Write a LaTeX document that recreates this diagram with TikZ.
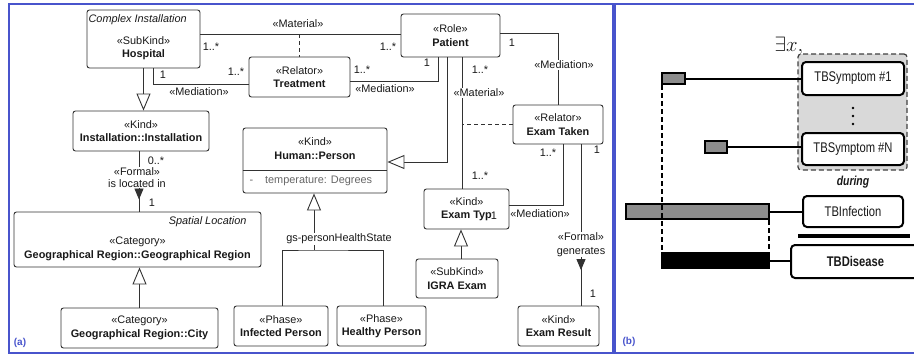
\documentclass[tikz,border=0pt]{standalone}
\usepackage{fontspec}
\setmainfont{Liberation Sans}
\newfontfamily\narrowfont[FakeStretch=0.8]{Liberation Sans}
\usepackage{tikz}
\usetikzlibrary{positioning,arrows.meta,decorations.markings}
\definecolor{frameblue}{RGB}{72,84,204}
\definecolor{umlline}{RGB}{50,50,50}
\tikzset{
  cls/.style={draw=umlline,line width=0.9pt,rounded corners=2.5pt,fill=white,align=center,inner sep=0pt},
  mult/.style={inner sep=1pt},
  rel/.style={draw=umlline,line width=0.9pt},
  gen/.style={rel,-{Triangle[open,length=17pt,width=14pt,fill=white]}},
  formal/.style={rel,postaction={decorate},decoration={markings,mark=at position #1 with {\arrow{Triangle[length=11pt,width=9pt]}}}},
  tlbox/.style={draw=black,line width=2pt,rounded corners=4pt,fill=white,inner sep=0pt,font=\narrowfont\fontsize{14}{16}\selectfont},
  bar/.style={draw=black,line width=2pt,inner sep=0pt},
  tldash/.style={line width=1.2pt,dash pattern=on 5pt off 3pt},
}

\begin{document}
\begin{tikzpicture}[x=1pt,y=-1pt,font=\fontsize{10.9}{13.5}\selectfont,text=black!90]
    \useasboundingbox (0,0) rectangle (914,356);
    \draw[frameblue,line width=2pt] (9,4) rectangle (613,353);
    \draw[frameblue,line width=2pt] (914,4) -- (615,4) -- (615,353) -- (914,353);

    \node[cls,minimum width=113pt,minimum height=58pt] (hospital) at (143.5,39) {};
    \node[anchor=north west,font=\itshape\fontsize{10.9}{13}\selectfont] (hospitaltitle) at ([xshift=-1.5pt,yshift=-1.5pt]hospital.north west) {Complex Installation};
    \node[align=center] (hospitalname) at ([yshift=-9pt]hospital.center) {«SubKind»\\\textbf{Hospital}};
    \node[cls,minimum width=101pt,minimum height=40pt] (treatment) at (299.5,77) {«Relator»\\\textbf{Treatment}};
    \node[cls,minimum width=99pt,minimum height=43pt] (patient) at (450.5,35.5) {«Role»\\\textbf{Patient}};
    \node[cls,minimum width=136pt,minimum height=40pt] (install) at (141,131) {«Kind»\\\textbf{Installation::Installation}};
    \node[cls,minimum width=144pt,minimum height=65pt] (person) at (315,160.5) {};
    \node[align=center] (personname) at (315,148.5) {«Kind»\\\textbf{Human::Person}};
    \coordinate (persondiv) at (315,170);
    \draw[rel] (person.west |- persondiv) -- (person.east |- persondiv);
    \node[anchor=west,text=black!60] (personattr) at (246,181) {-\hspace{12pt}temperature: Degrees};
    \node[cls,minimum width=90pt,minimum height=39pt] (examtaken) at (558,124.5) {«Relator»\\\textbf{Exam Taken}};
    \node[cls,minimum width=85pt,minimum height=40pt] (examtyp) at (466.5,209) {«Kind»\\\textbf{Exam Typ}\hspace{8pt}};
    \node[cls,minimum width=82pt,minimum height=39pt] (igra) at (457,278.5) {«SubKind»\\\textbf{IGRA Exam}};
    \node[cls,minimum width=81pt,minimum height=40pt] (result) at (558.5,326) {«Kind»\\\textbf{Exam Result}};
    \node[cls,minimum width=94pt,minimum height=40pt] (infected) at (281,326) {«Phase»\\\textbf{Infected Person}};
    \node[cls,minimum width=89pt,minimum height=40pt] (healthy) at (381.5,326) {«Phase»\\\textbf{Healthy Person}};
    \node[cls,minimum width=247pt,minimum height=55pt] (georegion) at (137.5,239.5) {};
    \node[anchor=north east,font=\itshape\fontsize{10.9}{13}\selectfont] (geotitle) at ([xshift=-11.5pt,yshift=-1.5pt]georegion.north east) {Spatial Location};
    \node[align=center] (geoname) at ([yshift=-9.5pt]georegion.center) {«Category»\\\textbf{Geographical Region::Geographical Region}};
    \node[cls,minimum width=157pt,minimum height=40pt] (city) at (139.5,328) {«Category»\\\textbf{Geographical Region::City}};

    \coordinate (matpat) at ([yshift=1.5pt]patient.west);
    \draw[rel] (hospital.east |- matpat) -- (matpat);
    \draw[rel,dash pattern=on 4pt off 3pt] (treatment.north |- matpat) -- (treatment.north);
    \draw[rel] ([xshift=9.5pt]hospital.south) |- ([yshift=-7pt]treatment.west);
    \draw[rel] ([yshift=-4pt]treatment.east) -| ([xshift=-12.5pt]patient.south);
    \draw[gen] ([xshift=-3.5pt]patient.south) |- ([yshift=-1.5pt]person.east);
    \coordinate (matpe) at ([xshift=11.5pt]patient.south);
    \draw[rel] (matpe) -- (matpe |- examtyp.north);
    \draw[rel,dash pattern=on 4pt off 3pt] (examtaken.west) -- (examtaken.west -| matpe);
    \draw[rel] ([yshift=2.5pt]patient.east) -| (examtaken.north);
    \draw[rel] ([xshift=5pt]examtaken.south) |- ([yshift=4pt]examtyp.east);
    \draw[formal=0.78] ([xshift=23pt]examtaken.south) -- ([xshift=22.5pt]result.north);
    \draw[formal=0.80] ([xshift=-2pt]install.south) -- ([xshift=1.5pt]georegion.north);
    \draw[gen] (hospital.south) -- (hospital.south |- install.north);
    \draw[gen] (city.north) -- (city.north |- georegion.south);
    \draw[gen] ([xshift=4pt]igra.north) -- ([xshift=4pt]igra.north |- examtyp.south);
    \coordinate (gsjoin) at (314,250);
    \draw[rel] ([xshift=1pt]infected.north) |- (gsjoin) -| ([xshift=1.5pt]healthy.north);
    \draw[gen] (gsjoin) -- (gsjoin |- person.south);

    \node (hpmat) at (298,24) {«Material»};
    \node[mult] (hpm1) at (211,47) {1..*};
    \node[mult] (hpm2) at (388,47) {1..*};
    \node[mult] (htm1) at (163,75) {1};
    \node[mult] (htm2) at (236,72) {1..*};
    \node (htmed) at (199,92) {«Mediation»};
    \node[mult] (tpm1) at (362,70) {1..*};
    \node[mult] (tpm2) at (427,63) {1};
    \node (tpmed) at (385,89) {«Mediation»};
    \node[mult] (pem1) at (480,70) {1..*};
    \node[fill=white,inner sep=1pt] (pemat) at (479,93) {«Material»};
    \node[mult] (pem2) at (480,176) {1..*};
    \node[mult] (ptm1) at (512,43) {1};
    \node[fill=white,inner sep=1pt] (ptmed) at (564,65) {«Mediation»};
    \node[mult] (etm1) at (548,153) {1..*};
    \node[mult] (etm2) at (494,216) {1};
    \node (etmed) at (540,214) {«Mediation»};
    \node[mult] (erm1) at (597,150) {1};
    \node[fill=white,inner sep=1pt,align=center] (ergen) at (581,244.5) {«Formal»\\generates};
    \node[mult] (erm2) at (593,294) {1};
    \node[mult] (igm1) at (156,161) {0..*};
    \node[fill=white,inner sep=1pt,align=center,font=\fontsize{10.9}{11.5}\selectfont] (igloc) at (137,177.5) {«Formal»\\is located in};
    \node[mult] (igm2) at (152,203) {1};
    \node[fill=white,inner sep=1pt] (gslabel) at (339,239) {gs-personHealthState};
    \node[text=frameblue,font=\bfseries\fontsize{10}{12}\selectfont] (taga) at (20,343) {(a)};

    \node[draw=black!75,tldash,fill=black!15,rounded corners=3pt,minimum width=109pt,minimum height=116pt] (symgroup) at (852.5,112) {};
    \node (exists) at (789,46) {\fontsize{20}{20}\selectfont$\exists x,$};
    \node[tlbox,minimum width=102pt,minimum height=33pt] (sym1) at (853,78.5) {TBSymptom \#1};
    \node[tlbox,minimum width=102pt,minimum height=32pt] (symN) at (853,149) {TBSymptom \#N};
    \foreach \y in {108,116,124}
        \fill (853,\y) circle (1.3pt);
    \node[font=\narrowfont\bfseries\itshape\fontsize{13}{14}\selectfont] (during) at (853,182) {during};
    \node[tlbox,minimum width=100pt,minimum height=31pt] (tbinf) at (853,211.5) {TBInfection};
    \node[tlbox,minimum width=129pt,minimum height=33pt,font=\narrowfont\bfseries\fontsize{14}{16}\selectfont] (tbdis) at (855.5,261.5) {TBDisease};
    \draw[line width=4pt] (798,236) -- (910,236);
    \node[bar,fill=black!45,minimum width=23pt,minimum height=11pt] (bar1) at (673.5,78.5) {};
    \node[bar,fill=black!45,minimum width=22pt,minimum height=12pt] (barN) at (716,147) {};
    \node[bar,fill=black!45,minimum width=143pt,minimum height=15pt] (barinf) at (697.5,211.5) {};
    \node[bar,fill=black,minimum width=107pt,minimum height=15pt] (bardis) at (715.5,260.5) {};
    \draw[line width=2pt] (bar1.east) -- (bar1.east -| sym1.west);
    \draw[line width=2pt] (barN.east) -- (barN.east -| symN.west);
    \draw[line width=2pt] (barinf.east) -- (barinf.east -| tbinf.west);
    \draw[line width=2pt] (bardis.east) -- (bardis.east -| tbdis.west);
    \draw[tldash] ([xshift=1pt]bar1.south west) -- ([xshift=1pt]bar1.south west |- bardis.north);
    \draw[tldash] ([xshift=-1pt]barinf.south east) -- ([xshift=-1pt]barinf.south east |- bardis.north);
    \node[text=frameblue,font=\bfseries\fontsize{10}{12}\selectfont] (tagb) at (629,342) {(b)};
\end{tikzpicture}
\end{document}
